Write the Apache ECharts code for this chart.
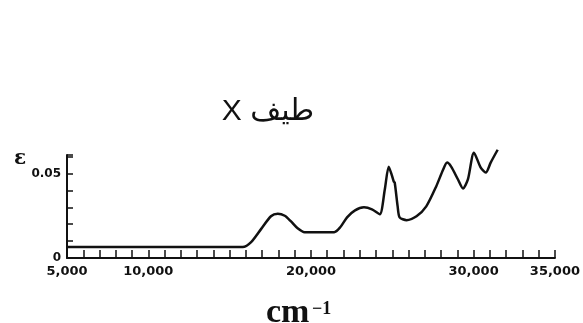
<!DOCTYPE html>
<html><head><meta charset="utf-8">
<script src="https://cdn.jsdelivr.net/npm/echarts@6/dist/echarts.min.js"></script>
<style>html,body{margin:0;padding:0;background:#fff}#c{width:583px;height:323px}</style>
</head><body><div id="c"></div>
<script>
var wavenumbers = [5000, 15800, 16320, 16930, 17540, 17960, 18390, 18760, 19180, 19610, 21430, 21800, 22220, 22710, 23260, 23750, 24230, 24540, 24780, 24960, 25090, 25150, 25330, 25450, 25880, 26490, 27090, 27700, 28130, 28370, 28620, 29040, 29350, 29650, 30020, 30440, 30750, 31050, 31480];
var epsilon = [0.0065, 0.0065, 0.0094, 0.0171, 0.0247, 0.0262, 0.0250, 0.0218, 0.0176, 0.0153, 0.0153, 0.0182, 0.0241, 0.0282, 0.0300, 0.0288, 0.0259, 0.0406, 0.0541, 0.0494, 0.0453, 0.0447, 0.0306, 0.0241, 0.0224, 0.0247, 0.0306, 0.0424, 0.0524, 0.0565, 0.0541, 0.0465, 0.0412, 0.0465, 0.0624, 0.0535, 0.0506, 0.0565, 0.0641];
var xTickLabels = {5000: '5,000', 10000: '10,000', 20000: '20,000', 30000: '30,000', 35000: '35,000'};
var yTickLabels = [[0, '0'], [0.05, '0.05']];
var titleText = 'طيف X';
var yName = 'ε';
var xUnit = 'cm';
var xUnitExp = '−1';

var chart = echarts.init(document.getElementById('c'));
var pts = wavenumbers.map(function(w, i){ return [w, epsilon[i]]; });
chart.setOption({
  animation: false,
  backgroundColor: '#fff',
  title: [
    {text: '\u202B' + titleText + '\u202C', left: 263, top: 92, textAlign: 'center',
     textStyle: {fontFamily: "'Liberation Sans', 'DejaVu Sans', sans-serif", fontSize: 30, fontWeight: 'normal', color: '#111'}},
    {text: yName, left: 9, top: 144,
     textStyle: {fontFamily: 'DejaVu Serif', fontSize: 20, fontWeight: 'bold', color: '#111'}},
    {text: xUnit, left: 261, top: 291,
     textStyle: {fontFamily: 'Liberation Serif', fontSize: 34, fontWeight: 'bold', color: '#111'}},
    {text: xUnitExp, left: 307, top: 295,
     textStyle: {fontFamily: 'Liberation Serif', fontSize: 18, fontWeight: 'bold', color: '#111'}}
  ],
  grid: {left: 67, right: 23, top: 155, bottom: 65, containLabel: false},
  xAxis: {
    type: 'value', min: 5000, max: 35000, interval: 1000,
    axisLine: {lineStyle: {color: '#111', width: 2}},
    axisTick: {inside: true, length: 8, lineStyle: {color: '#111', width: 1.5}},
    splitLine: {show: false},
    axisLabel: {
      margin: 7, color: '#111', fontFamily: 'DejaVu Sans', fontSize: 13, fontWeight: 'bold',
      formatter: function(v){ return xTickLabels[Math.round(v)] || ''; }
    }
  },
  yAxis: {
    type: 'value', min: 0, max: 0.061, interval: 0.01,
    axisLine: {show: true, lineStyle: {color: '#111', width: 2}},
    axisTick: {show: true, inside: true, length: 6, lineStyle: {color: '#111', width: 1.5}},
    splitLine: {show: false},
    axisLabel: {
      margin: 6, color: '#111', fontFamily: 'DejaVu Sans', fontSize: 12, fontWeight: 'bold',
      formatter: function(v){
        for (var i = 0; i < yTickLabels.length; i++) if (Math.abs(v - yTickLabels[i][0]) < 1e-6) return yTickLabels[i][1];
        return '';
      }
    }
  },
  series: [{
    type: 'line', data: pts, smooth: 0.25, symbol: 'none', clip: false,
    lineStyle: {color: '#111', width: 2.5}
  }]
});
</script></body></html>
